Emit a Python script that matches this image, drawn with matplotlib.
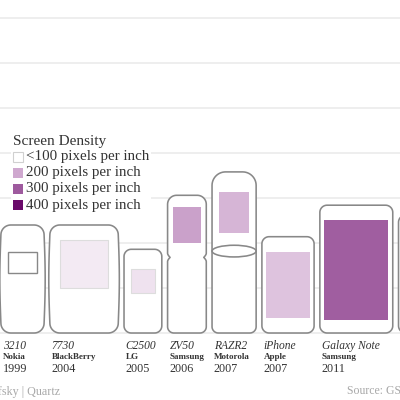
import numpy as np
import matplotlib
matplotlib.use("Agg")
import matplotlib.pyplot as plt
from matplotlib.patches import Polygon, Rectangle, Ellipse
from matplotlib.colors import LinearSegmentedColormap
from matplotlib.transforms import Affine2D

# ---- data (phone sizes in mm) ----
models = ["3210", "7730", "C2500", "ZV50", "RAZR2", "iPhone", "Galaxy Note", "Galaxy S4"]
makers = ["Nokia", "BlackBerry", "LG", "Samsung", "Motorola", "Apple", "Samsung", "Samsung"]
years = [1999, 2004, 2005, 2006, 2007, 2007, 2011, 2013]
ppi = [80, 125, 133, 210, 185, 170, 295, 440]
body_w = [48, 76, 42, 43, 49, 58, 81, 70]
body_h = [120, 120, 93, 153, 179, 107, 142, 131]
screen_w = [33, 54, 27, 31, 33, 49, 71, 58]
screen_h = [23, 53, 27, 40, 46, 73, 112, 100]
screen_top = [30, 17, 22, 13, 22, 17, 16, 16]
styles = ["candybar", "candybar", "plain", "slider", "flip", "plain", "plain", "plain"]

legend_ppi = [100, 200, 300, 400]
legend_labels = ["<100 pixels per inch", "200 pixels per inch",
                 "300 pixels per inch", "400 pixels per inch"]
legend_colors = ["#ffffff", "#cfa8cf", "#9e5a9e", "#6a0a6a"]
legend_title = "Screen Density"
credit = "Chart: David Yanofsky | Quartz"
source = "Source: GSMArena"

grid_step = 50
n_grid = 8

# ---- style ----
FONT = "Liberation Serif"
OUTLINE = "#888888"
GRID = "#eeeeee"
TEXT = "#333333"
GREY_TXT = "#a8a8a8"
PX_PER_MM = 0.9
BASE_PX = 333
GAP = 6.4
START = 1.0

cmap = LinearSegmentedColormap.from_list(
    "ppi", [((p - legend_ppi[0]) / (legend_ppi[-1] - legend_ppi[0]), c)
            for p, c in zip(legend_ppi, legend_colors)])


def ppi_color(v):
    t = (v - legend_ppi[0]) / (legend_ppi[-1] - legend_ppi[0])
    return cmap(min(max(t, 0.0), 1.0))


def arc(cx, cy, r, a0, a1, n=14):
    t = np.radians(np.linspace(a0, a1, n))
    return list(zip(cx + r * np.cos(t), cy + r * np.sin(t)))


def body_outline(x0, y0, w, h, rt, rb, notch=None, bulge=0.0):
    pts = []
    pts += arc(x0 + rb, y0 + rb, rb, 180, 270)
    pts += arc(x0 + w - rb, y0 + rb, rb, 270, 360)
    if notch is not None:
        ny, nh, nd = notch
        for si in np.linspace(-1, 1, 21):
            pts.append((x0 + w - nd * (1 - abs(si)) ** 1.6, ny + si * nh))
    elif bulge:
        s = np.linspace(0, 1, 21)[1:-1]
        yy = y0 + rb + s * (h - rt - rb)
        for si, yi in zip(s, yy):
            pts.append((x0 + w + bulge * np.sin(np.pi * si), yi))
    pts += arc(x0 + w - rt, y0 + h - rt, rt, 0, 90)
    pts += arc(x0 + rt, y0 + h - rt, rt, 90, 180)
    if notch is not None:
        ny, nh, nd = notch
        for si in np.linspace(1, -1, 21):
            pts.append((x0 + nd * (1 - abs(si)) ** 1.6, ny + si * nh))
    elif bulge:
        s = np.linspace(1, 0, 21)[1:-1]
        yy = y0 + rb + s * (h - rt - rb)
        for si, yi in zip(s, yy):
            pts.append((x0 - bulge * np.sin(np.pi * si), yi))
    return pts


fig = plt.figure(figsize=(4, 4), dpi=100)
ax = fig.add_axes([0, 0, 1, 1])
ax.set_xlim(0, 400 / PX_PER_MM)
ax.set_ylim(-(400 - BASE_PX) / PX_PER_MM, BASE_PX / PX_PER_MM)
ax.axis("off")

for k in range(n_grid):
    ax.axhline(k * grid_step, color=GRID, lw=1.4, zorder=0)

x = START
for i in range(len(models)):
    w, h = body_w[i], body_h[i]
    st = styles[i]
    if st == "candybar":
        pts = body_outline(x, 0, w, h, 11, 11, bulge=1.2)
    elif st == "slider":
        pts = body_outline(x, 0, w, h, 10, 7, notch=(h - 69, 4.5, 2.8))
    elif st == "flip":
        pts = body_outline(x, 0, w, h, 15, 7)
    else:
        pts = body_outline(x, 0, w, h, 8, 8)
    ax.add_patch(Polygon(pts, closed=True, facecolor="white", edgecolor=OUTLINE,
                         lw=1.15, zorder=2, joinstyle="round"))
    if st == "flip":
        ax.add_patch(Ellipse((x + w / 2, h - 88), w, 13, facecolor="none",
                             edgecolor=OUTLINE, lw=1.15, zorder=3))
    sw, sh = screen_w[i], screen_h[i]
    sx = x + (w - sw) / 2
    sy = h - screen_top[i] - sh
    if ppi[i] < legend_ppi[0]:
        ec, lw = OUTLINE, 1.0
    elif ppi[i] < 150:
        ec, lw = "#dddddd", 0.8
    else:
        ec, lw = "none", 0
    ax.add_patch(Rectangle((sx, sy), sw, sh, facecolor=ppi_color(ppi[i]),
                           edgecolor=ec, lw=lw, zorder=4))
    lx = x + 2.0
    ax.text(lx, -14.4, models[i], family=FONT, style="italic", fontsize=8.3,
            color=TEXT, va="center", ha="left")
    ax.text(lx, -26.7, makers[i], family=FONT, weight="bold", fontsize=6.5,
            color=TEXT, va="center", ha="left")
    ax.text(lx, -40.0, str(years[i]), family=FONT, fontsize=8.7,
            color=TEXT, va="center", ha="left")
    x += w + GAP

# ---- legend (pixel coordinates from top-left) ----
px = Affine2D().scale(1 / 100, -1 / 100).translate(0, 4) + fig.dpi_scale_trans
fig.patches.append(Rectangle((11, 131), 140, 82, transform=px, facecolor="white",
                             edgecolor="none", zorder=5))
fig.text(13, 141, legend_title, transform=px, family=FONT, fontsize=11,
         color=TEXT, va="center", ha="left", zorder=6)
for j, (lab, col) in enumerate(zip(legend_labels, legend_colors)):
    yc = 156.5 + j * 16.2
    fig.patches.append(Rectangle((12.5, yc - 5), 10, 10, transform=px, facecolor=col,
                                 edgecolor="#d0d0d0" if j == 0 else "none", lw=0.8,
                                 zorder=6))
    fig.text(26, yc, lab, transform=px, family=FONT, fontsize=10.8, color=TEXT,
             va="center", ha="left", zorder=6)

fig.text(60, 392, credit, transform=px, family=FONT, fontsize=8.7, color=GREY_TXT,
         va="center", ha="right")
fig.text(347, 391, source, transform=px, family=FONT, fontsize=8.5, color=GREY_TXT,
         va="center", ha="left")

fig.savefig("out.png", dpi=100)
